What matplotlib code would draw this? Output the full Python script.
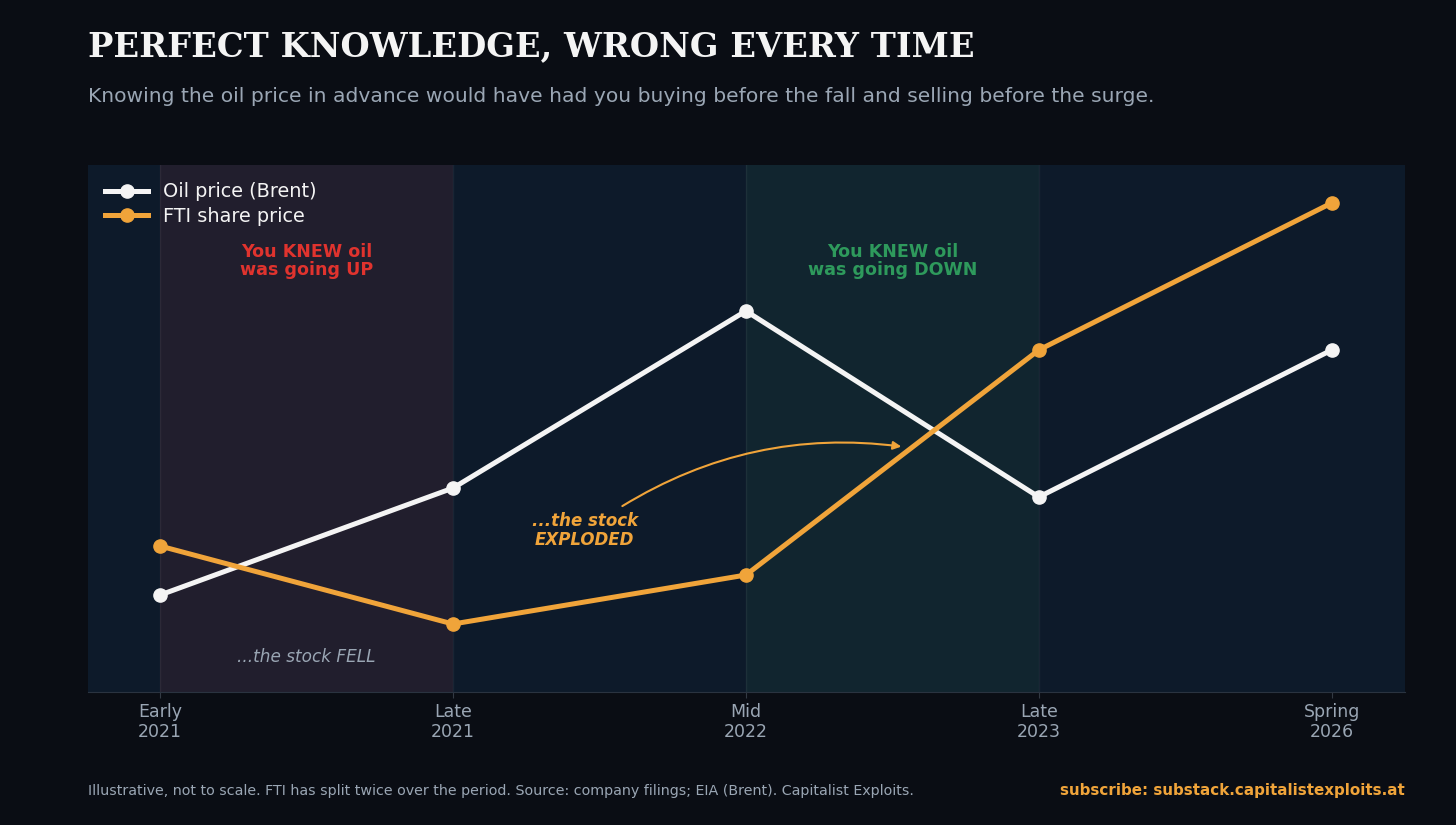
"""
Oil price vs FTI share price - perfect knowledge chart
"""
import matplotlib
matplotlib.use('Agg')
import matplotlib.pyplot as plt

plt.rcParams['font.family'] = ['DejaVu Sans']

# Dados (ilustrativos, escala livre)
periodos = ['Early\n2021', 'Late\n2021', 'Mid\n2022', 'Late\n2023', 'Spring\n2026']
oil = [18.4, 38.7, 72.3, 37.0, 64.9]
fti = [27.7, 12.9, 22.2, 64.9, 92.8]

BG = '#0a0d14'
AX_BG = '#0d1a2a'
OIL_COR = '#f4f4f4'
FTI_COR = '#f0a43a'
VERMELHO = '#e0332e'
VERDE = '#2e9a5c'
CINZA = '#9aa6b4'

fig = plt.figure(figsize=(14.56, 8.25), dpi=100, facecolor=BG)
ax = fig.add_axes([88 / 1456, 1 - 692 / 825, (1405 - 88) / 1456, (692 - 165) / 825])
ax.set_facecolor(AX_BG)

x = list(range(len(periodos)))

# Regiões sombreadas
ax.axvspan(0, 1, color='#211e2d', zorder=0, lw=0)
ax.axvspan(2, 3, color='#11252f', zorder=0, lw=0)
for xv in [0, 1, 2, 3]:
    ax.axvline(xv, color='#ffffff', alpha=0.05, lw=1, zorder=0.5)

ax.plot(x, oil, color=OIL_COR, lw=3.6, marker='o', markersize=9.5,
        label='Oil price (Brent)', zorder=3)
ax.plot(x, fti, color=FTI_COR, lw=3.6, marker='o', markersize=9.5,
        label='FTI share price', zorder=4)

ax.text(0.5, 81.8, 'You KNEW oil\nwas going UP', color=VERMELHO, fontsize=12.6,
        fontweight='bold', ha='center', va='center', linespacing=1.0)
ax.text(2.5, 81.8, 'You KNEW oil\nwas going DOWN', color=VERDE, fontsize=12.6,
        fontweight='bold', ha='center', va='center', linespacing=1.0)
ax.text(0.5, 6.6, '...the stock FELL', color=CINZA, fontsize=12.2,
        style='italic', ha='center', va='center')
ax.text(1.45, 30.7, '...the stock\nEXPLODED', color=FTI_COR, fontsize=12,
        fontweight='bold', style='italic', ha='center', va='center',
        linespacing=1.05)
ax.annotate('', xy=(2.54, 46.5), xytext=(1.57, 35.0),
            arrowprops=dict(arrowstyle='-|>', color=FTI_COR, lw=1.5,
                            connectionstyle='arc3,rad=-0.18',
                            mutation_scale=12))

ax.set_xlim(-0.246, 4.25)
ax.set_ylim(0, 100)
ax.set_yticks([])
ax.set_xticks(x)
ax.set_xticklabels(periodos, color=CINZA, fontsize=12.5, linespacing=1.1)
ax.tick_params(axis='x', colors='#333a44', labelcolor=CINZA, length=4, pad=4)
for lado in ['top', 'left', 'right']:
    ax.spines[lado].set_visible(False)
ax.spines['bottom'].set_color('#2a3340')

leg = ax.legend(loc='upper left', frameon=False, fontsize=13.9,
                handlelength=2.2, borderaxespad=0.5, labelspacing=0.3)
for t in leg.get_texts():
    t.set_color('#f4f4f4')

fig.text(88 / 1456, 1 - 47 / 825, 'PERFECT KNOWLEDGE, WRONG EVERY TIME',
         family='DejaVu Serif', fontweight='bold', fontsize=24.2,
         color='#f4f4f4', va='center', ha='left')
fig.text(88 / 1456, 1 - 97 / 825,
         'Knowing the oil price in advance would have had you buying before the fall and selling before the surge.',
         fontsize=14.6, color=CINZA, va='center', ha='left')
fig.text(88 / 1456, 1 - 791 / 825,
         'Illustrative, not to scale. FTI has split twice over the period. Source: company filings; EIA (Brent). Capitalist Exploits.',
         fontsize=10.3, color=CINZA, va='center', ha='left')
fig.text(1405 / 1456, 1 - 791 / 825, 'subscribe: substack.capitalistexploits.at',
         fontsize=10.9, fontweight='bold', color=FTI_COR, va='center', ha='right')

fig.savefig('out.png', dpi=100, facecolor=BG)
